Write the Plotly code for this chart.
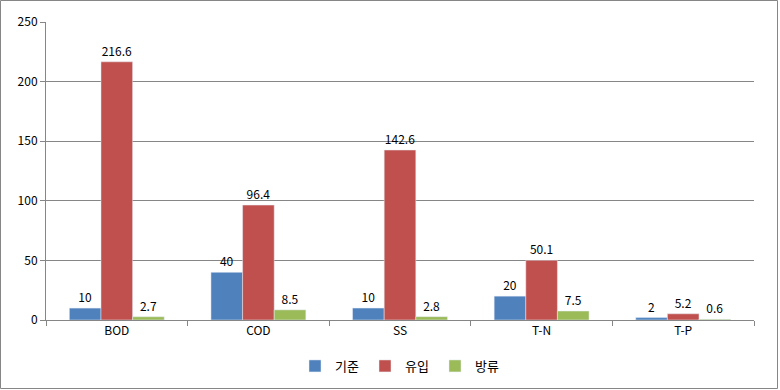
import plotly.graph_objects as go

categories = ["BOD", "COD", "SS", "T-N", "T-P"]
standard = [10, 40, 10, 20, 2]
inflow = [216.6, 96.4, 142.6, 50.1, 5.2]
outflow = [2.7, 8.5, 2.8, 7.5, 0.6]
series_names = ["기준", "유입", "방류"]
colors = ["#4F81BD", "#C0504D", "#9BBB59"]
y_ticks = [0, 50, 100, 150, 200, 250]

FONT = "Noto Sans CJK KR, Noto Sans, sans-serif"

fig = go.Figure()
for name, vals, col in zip(series_names, [standard, inflow, outflow], colors):
    fig.add_trace(go.Bar(
        x=categories, y=vals, name=name, marker_color=col,
        text=[f"{v:g}" for v in vals], textposition="outside",
        textfont=dict(size=12, color="#000000", family=FONT),
        cliponaxis=False,
    ))

L, R, T, B = 46, 754, 22, 320
W, H = 780, 390
pw, ph = R - L, B - T

def px(x):
    return (x - L) / pw

def py(y):
    return (B - y) / ph

fig.update_layout(
    width=W, height=H,
    margin=dict(l=L, r=W - R, t=T, b=H - B, pad=0, autoexpand=False),
    paper_bgcolor="white", plot_bgcolor="white",
    barmode="group", bargap=0.33, bargroupgap=0,
    font=dict(family=FONT, size=12, color="#000000"),
    showlegend=True,
    legend=dict(orientation="h", x=0.5, xanchor="center",
                yref="container", y=1 - 366 / H, yanchor="middle",
                font=dict(size=13, family=FONT), itemwidth=30, traceorder="normal",
                entrywidth=25, entrywidthmode="pixels",
                bgcolor="rgba(0,0,0,0)"),
)
fig.update_xaxes(
    showline=True, linecolor="#868686", linewidth=1, automargin=False,
    ticks="outside", tickson="boundaries", ticklen=5, tickcolor="#868686",
    tickfont=dict(size=12, family=FONT), showgrid=False,
)
fig.update_yaxes(
    range=[0, 250], tickvals=y_ticks, showline=True, linecolor="#868686", linewidth=1,
    ticks="outside", ticklen=5, tickcolor="#868686", automargin=False,
    showgrid=True, gridcolor="#868686", gridwidth=1, zeroline=False,
    tickfont=dict(size=12, family=FONT),
)
fig.add_shape(type="rect", xref="paper", yref="paper",
              x0=px(0.5), x1=px(777.5), y0=py(388.5), y1=py(0.5),
              line=dict(color="#868686", width=1), layer="below")
fig.write_html("out.html", config={"displayModeBar": False},
               post_script="document.body.style.margin='0';document.body.style.overflow='hidden';")
